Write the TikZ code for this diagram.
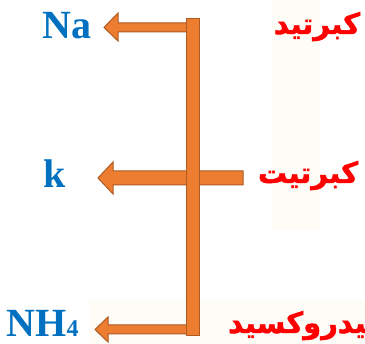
\documentclass[tikz,border=0pt]{standalone}
\usepackage{fontspec}
\setmainfont{Liberation Serif}
\newfontfamily\arabicfont[Script=Arabic,BoldFont={DejaVu Sans Bold},BoldFeatures={FakeBold=1.6}]{DejaVu Sans}
\TeXXeTstate=1
\definecolor{chemblue}{HTML}{0070C0}
\definecolor{arred}{HTML}{FF0000}
\definecolor{arrfill}{HTML}{ED7D31}
\definecolor{arrline}{HTML}{AE5A21}
\definecolor{ghost}{HTML}{FDFCF6}
\tikzset{
  arrshape/.style={fill=arrfill, draw=arrline, line width=1pt, line join=miter},
  chem/.style={text=chemblue, font=\bfseries\fontsize{40}{40}\selectfont, inner sep=0pt},
  artext/.style={text=arred, font=\arabicfont\bfseries\fontsize{29}{29}\selectfont, inner sep=0pt},
}
\begin{document}
\begin{tikzpicture}[x=1pt,y=-1pt]
\useasboundingbox (0,0) rectangle (365,344);
\clip (0,0) rectangle (365,344);
% faint background watermark
\fill[ghost] (272,0) rectangle (320,230);
\fill[ghost] (90,300) rectangle (365,344);
% arrows (drawn before the bar)
\draw[arrshape] (192,23) -- (118,23) -- (118,13) -- (104,27.5) -- (118,41) -- (118,32) -- (192,32) -- cycle;
\draw[arrshape] (243,171) -- (113,171) -- (113,162) -- (98,178) -- (113,194) -- (113,185) -- (243,185) -- cycle;
\draw[arrshape] (192,325) -- (108,325) -- (108,317) -- (95,329.5) -- (108,342) -- (108,334) -- (192,334) -- cycle;
% vertical bar
\draw[arrshape] (186,19) rectangle (199,336);
% chemical labels
\node[chem, anchor=base] (na) at (67,39) {Na};
\node[chem, anchor=base] (k) at (55,188) {k};
\node[chem, anchor=base west] (nh) at (6.5,337) {NH{\fontsize{24}{24}\selectfont 4}};
% arabic labels
\node[artext, anchor=base] (a1) at (317,34) {\beginR كبرتيد\endR};
\node[artext, anchor=base] (a2) at (308,183) {\beginR كبرتيت\endR};
\node[artext, anchor=base west] (a3) at (228,333) {\beginR هيدروكسيد\endR};
\end{tikzpicture}
\end{document}
